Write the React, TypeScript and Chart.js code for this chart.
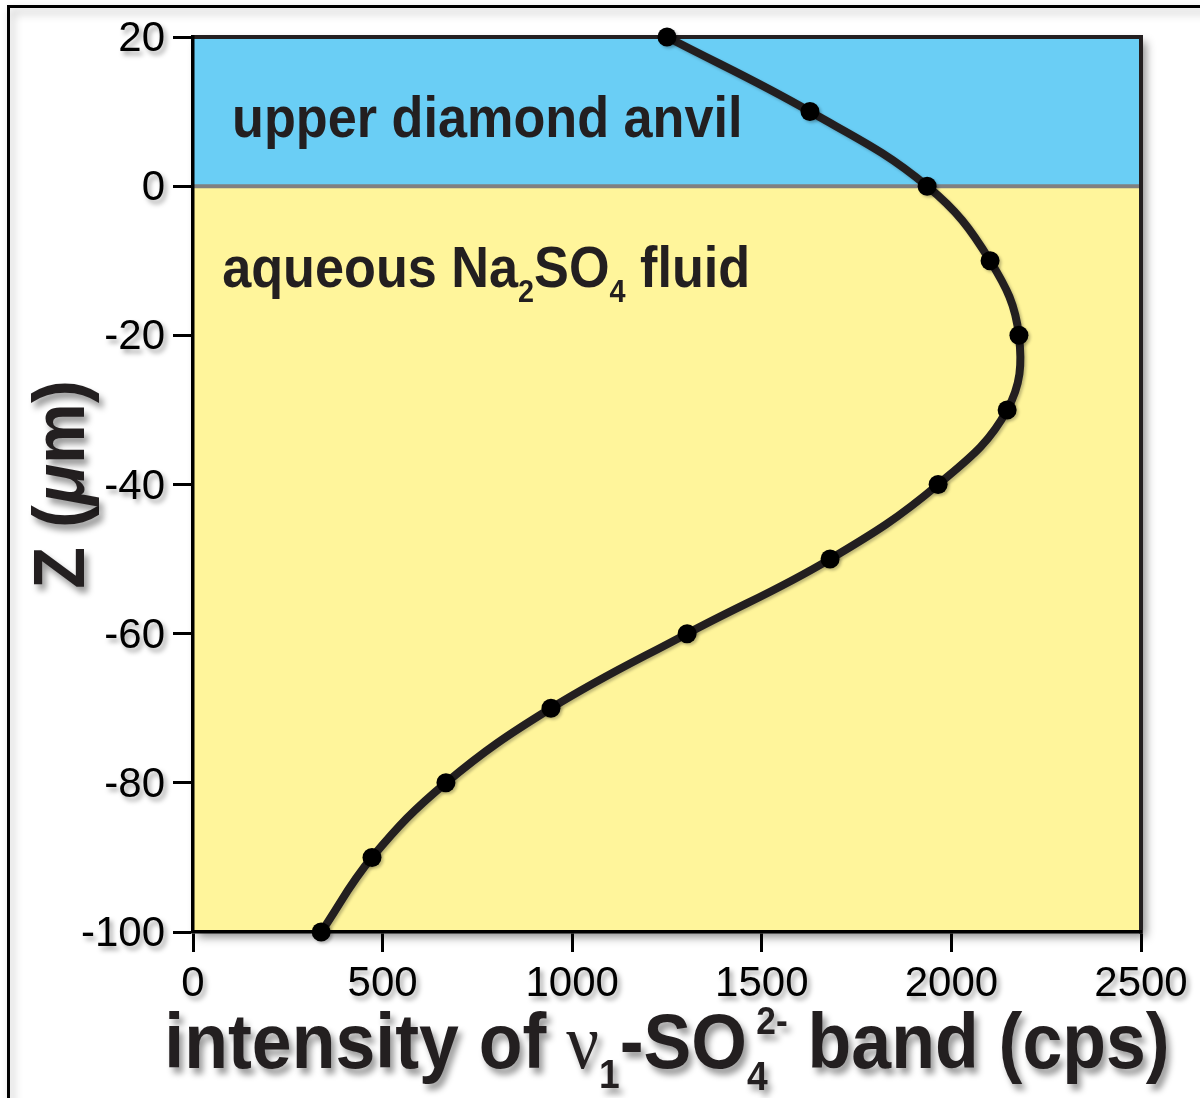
import React, { useEffect, useRef } from "react";
import { Chart, registerables } from "chart.js";

Chart.register(...registerables);

// Depth profile of the v1-SO4 Raman band intensity through the cell
const depthsUm = [20, 10, 0, -10, -20, -30, -40, -50, -60, -70, -80, -90, -100];
const intensityCps = [1250, 1627, 1936, 2102, 2178, 2147, 1965, 1680, 1303, 944, 667, 472, 338];

const xTickValues = [0, 500, 1000, 1500, 2000, 2500];
const yTickValues = [-100, -80, -60, -40, -20, 0, 20];

// Depth ranges of the two media
const anvilRange = [0, 20];
const fluidRange = [-100, 0];

const W = 1200;
const H = 1098;

const SANS = '"Liberation Sans", Arial, Helvetica, sans-serif';
const SERIF = '"Liberation Serif", "Times New Roman", serif';
const INK = "#231f20";

type Seg = { text: string; font: string; dy?: number; advanceFrac?: number };

function segAdvance(ctx: CanvasRenderingContext2D, s: Seg) {
  ctx.font = s.font;
  const w = ctx.measureText(s.text).width;
  return s.advanceFrac !== undefined ? w * s.advanceFrac : w;
}

function drawRich(
  ctx: CanvasRenderingContext2D,
  segs: Seg[],
  x: number,
  y: number,
  align: "left" | "center",
  sx: number
) {
  ctx.save();
  ctx.translate(x, y);
  ctx.scale(sx, 1);
  ctx.textAlign = "left";
  ctx.textBaseline = "alphabetic";
  let total = 0;
  for (const s of segs) total += segAdvance(ctx, s);
  let cx = align === "center" ? -total / 2 : 0;
  for (const s of segs) {
    ctx.font = s.font;
    ctx.fillText(s.text, cx, s.dy || 0);
    cx += segAdvance(ctx, s);
  }
  ctx.restore();
}

function setShadow(ctx: CanvasRenderingContext2D, alpha: number, blur: number, ox: number, oy: number) {
  ctx.shadowColor = `rgba(0,0,0,${alpha})`;
  ctx.shadowBlur = blur;
  ctx.shadowOffsetX = ox;
  ctx.shadowOffsetY = oy;
}

const backdropPlugin = {
  id: "backdrop",
  beforeDraw(chart: any) {
    const ctx: CanvasRenderingContext2D = chart.ctx;
    const { left, top, right, bottom } = chart.chartArea;
    const ys = chart.scales.y;
    ctx.save();
    ctx.fillStyle = "#ffffff";
    ctx.fillRect(0, 0, W, H);

    // page frame
    ctx.save();
    setShadow(ctx, 0.3, 10, 3, 5);
    ctx.strokeStyle = "#000";
    ctx.lineWidth = 3;
    ctx.strokeRect(8.5, 6.5, W + 40, H + 40);
    ctx.restore();

    // plot panel drop shadow
    ctx.save();
    setShadow(ctx, 0.45, 9, 5, 5);
    ctx.fillStyle = "#ffffff";
    ctx.fillRect(left, top, right - left, bottom - top);
    ctx.restore();

    // media bands
    const yA0 = ys.getPixelForValue(anvilRange[1]);
    const yA1 = ys.getPixelForValue(anvilRange[0]);
    const yF0 = ys.getPixelForValue(fluidRange[1]);
    const yF1 = ys.getPixelForValue(fluidRange[0]);
    ctx.fillStyle = "#6acef5";
    ctx.fillRect(left, yA0, right - left, yA1 - yA0);
    ctx.fillStyle = "#fff59b";
    ctx.fillRect(left, yF0, right - left, yF1 - yF0);

    // interface line
    ctx.strokeStyle = "#808080";
    ctx.lineWidth = 4;
    ctx.beginPath();
    ctx.moveTo(left, yA1);
    ctx.lineTo(right, yA1);
    ctx.stroke();

    // top and right edges of the panel
    ctx.strokeStyle = INK;
    ctx.lineWidth = 4;
    ctx.beginPath();
    ctx.moveTo(left - 1.5, top);
    ctx.lineTo(right, top);
    ctx.lineTo(right, bottom + 1.5);
    ctx.stroke();
    ctx.restore();
  },
  beforeDatasetsDraw(chart: any) {
    const ctx: CanvasRenderingContext2D = chart.ctx;
    ctx.save();
    setShadow(ctx, 0.25, 3, 2, 2);
  },
  afterDatasetsDraw(chart: any) {
    chart.ctx.restore();
  },
  afterDraw(chart: any) {
    const ctx: CanvasRenderingContext2D = chart.ctx;
    const { left, top, right, bottom } = chart.chartArea;
    const xs = chart.scales.x;
    const ys = chart.scales.y;
    ctx.save();

    // tick labels
    setShadow(ctx, 0.35, 5, 3, 4);
    ctx.fillStyle = "#000";
    ctx.font = `42px ${SANS}`;
    ctx.textBaseline = "alphabetic";
    ctx.textAlign = "right";
    for (const t of ys.ticks) {
      ctx.fillText(String(t.value), left - 28, ys.getPixelForValue(t.value) + 14);
    }
    ctx.textAlign = "center";
    for (const t of xs.ticks) {
      ctx.fillText(String(t.value), xs.getPixelForValue(t.value), bottom + 64);
    }

    // axis titles
    ctx.fillStyle = INK;
    setShadow(ctx, 0.4, 6, 4, 6);
    const B = (px: number) => `bold ${px}px ${SANS}`;
    drawRich(
      ctx,
      [
        { text: "intensity of ", font: B(77) },
        { text: "\u03bd", font: `78px ${SERIF}` },
        { text: "1", font: B(40), dy: 20 },
        { text: "-SO", font: B(77) },
        { text: "4", font: B(40), dy: 22, advanceFrac: 0.45 },
        { text: "2-", font: B(38), dy: -34 },
        { text: " band (cps)", font: B(77) },
      ],
      (left + right) / 2,
      bottom + 136,
      "center",
      0.93
    );

    ctx.save();
    ctx.translate(84, (top + bottom) / 2);
    ctx.rotate(-Math.PI / 2);
    drawRich(
      ctx,
      [
        { text: "Z (", font: B(72) },
        { text: "\u03bc", font: `italic bold 72px ${SANS}` },
        { text: "m)", font: B(72) },
      ],
      0,
      0,
      "center",
      0.95
    );
    ctx.restore();

    // region labels
    ctx.shadowColor = "transparent";
    ctx.fillStyle = INK;
    drawRich(
      ctx,
      [{ text: "upper diamond anvil", font: B(58) }],
      xs.getPixelForValue(103),
      ys.getPixelForValue(6.6),
      "left",
      0.9
    );
    drawRich(
      ctx,
      [
        { text: "aqueous Na", font: B(58) },
        { text: "2", font: B(32), dy: 15 },
        { text: "SO", font: B(58) },
        { text: "4", font: B(32), dy: 15 },
        { text: " fluid", font: B(58) },
      ],
      xs.getPixelForValue(77),
      ys.getPixelForValue(-13.5),
      "left",
      0.9
    );
    ctx.restore();
  },
};

export default function App() {
  const canvasRef = useRef<HTMLCanvasElement | null>(null);

  useEffect(() => {
    const canvas = canvasRef.current;
    if (!canvas) return;
    const points = depthsUm.map((z, i) => ({ x: intensityCps[i], y: z }));

    const axisCommon = {
      type: "linear" as const,
      ticks: { display: false },
      grid: {
        display: true,
        drawOnChartArea: false,
        drawTicks: true,
        tickLength: 20,
        tickWidth: 3,
        tickColor: "#000",
      },
      border: { display: true, color: "#000", width: 3.5, z: -1 },
    };

    const chart = new Chart(canvas, {
      type: "line",
      data: {
        datasets: [
          {
            data: points,
            borderColor: INK,
            borderWidth: 8,
            tension: 0.4,
            pointRadius: 9.5,
            pointBackgroundColor: "#000",
            pointBorderWidth: 0,
            pointHoverRadius: 9.5,
            clip: false as any,
            fill: false,
          },
        ],
      },
      options: {
        responsive: false,
        animation: false,
        devicePixelRatio: 1,
        layout: { padding: { left: 173, top: 37, right: 59, bottom: 146 } },
        plugins: { legend: { display: false }, tooltip: { enabled: false } },
        events: [],
        scales: {
          x: {
            ...axisCommon,
            min: 0,
            max: 2500,
            afterBuildTicks: (s: any) => {
              s.ticks = xTickValues.map((v) => ({ value: v }));
            },
          },
          y: {
            ...axisCommon,
            min: -100,
            max: 20,
            afterBuildTicks: (s: any) => {
              s.ticks = yTickValues.map((v) => ({ value: v }));
            },
          },
        },
      },
      plugins: [backdropPlugin],
    });

    return () => chart.destroy();
  }, []);

  return (
    <div style={{ position: "absolute", left: 0, top: 0, width: W, height: H, background: "#fff" }}>
      <canvas ref={canvasRef} width={W} height={H} style={{ display: "block", width: W, height: H }} />
    </div>
  );
}
